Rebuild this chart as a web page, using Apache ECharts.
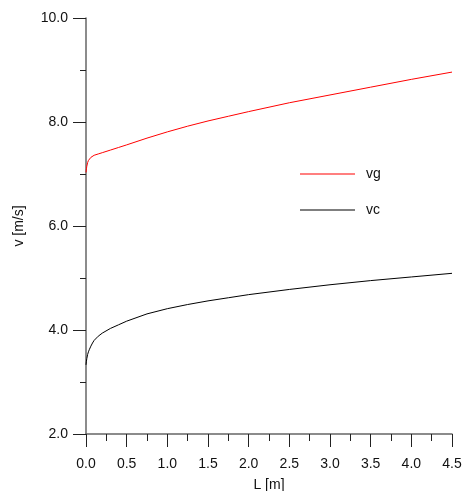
<!DOCTYPE html>
<html>
<head>
<meta charset="utf-8">
<script src="https://cdn.jsdelivr.net/npm/echarts@6/dist/echarts.min.js"></script>
<style>
  html, body { margin: 0; padding: 0; background: #fff; }
  #chart { width: 462px; height: 491px; }
</style>
</head>
<body>
<div id="chart"></div>
<script>
// L [m] sample points
const lengths = [0, 0.005, 0.01, 0.02, 0.03, 0.04, 0.06, 0.08, 0.1, 0.15, 0.2, 0.3, 0.4, 0.5, 0.75, 1.0, 1.25, 1.5, 1.75, 2.0, 2.5, 3.0, 3.5, 4.0, 4.5]
// v [m/s]
const vg = [7.03, 7.10, 7.15, 7.22, 7.26, 7.29, 7.32, 7.34, 7.36, 7.385, 7.41, 7.46, 7.51, 7.56, 7.69, 7.81, 7.92, 8.02, 8.11, 8.20, 8.37, 8.52, 8.67, 8.82, 8.96]
const vc = [3.33, 3.40, 3.45, 3.53, 3.58, 3.62, 3.69, 3.75, 3.80, 3.88, 3.94, 4.03, 4.10, 4.17, 4.31, 4.41, 4.49, 4.56, 4.62, 4.68, 4.78, 4.87, 4.95, 5.02, 5.09]

const font = 'Liberation Sans, Arial, sans-serif'
const chart = echarts.init(document.getElementById('chart'))

const axisCommon = {
  axisLine: { show: true, lineStyle: { color: '#666', width: 1.5 } },
  axisTick: { show: true, inside: false, length: 13, lineStyle: { color: '#222' } },
  minorTick: { show: true, splitNumber: 2, lineStyle: { color: '#222' } },
  splitLine: { show: false },
  axisLabel: { color: '#111', fontSize: 14, fontFamily: font, formatter: v => v.toFixed(1) },
  nameLocation: 'middle',
  nameTextStyle: { color: '#111', fontSize: 14, fontFamily: font }
}

chart.setOption({
  animation: false,
  grid: { left: 86, top: 18, right: 10, bottom: 57, containLabel: false, outerBoundsMode: 'none' },
  legend: {
    orient: 'vertical',
    left: 295,
    top: 162,
    icon: 'rect',
    itemWidth: 55,
    itemHeight: 1,
    itemGap: 22,
    textStyle: { color: '#111', fontSize: 14, fontFamily: font, padding: [0, 0, 0, 6] },
    data: ['vg', 'vc']
  },
  xAxis: Object.assign({}, axisCommon, {
    type: 'value',
    min: 0,
    max: 4.5,
    interval: 0.5,
    name: 'L [m]',
    nameGap: 44,
    minorTick: Object.assign({}, axisCommon.minorTick, { length: 7 }),
    axisLabel: Object.assign({}, axisCommon.axisLabel, { margin: 23 })
  }),
  yAxis: Object.assign({}, axisCommon, {
    type: 'value',
    min: 2,
    max: 10,
    interval: 2,
    name: 'v [m/s]',
    nameGap: 60,
    minorTick: Object.assign({}, axisCommon.minorTick, { length: 6 }),
    axisLabel: Object.assign({}, axisCommon.axisLabel, { margin: 18 })
  }),
  series: [
    {
      name: 'vg',
      type: 'line',
      symbol: 'none',
      lineStyle: { color: '#ff0000', width: 1 },
      itemStyle: { color: '#ff0000' },
      data: lengths.map((l, i) => [l, vg[i]])
    },
    {
      name: 'vc',
      type: 'line',
      symbol: 'none',
      lineStyle: { color: '#000000', width: 1 },
      itemStyle: { color: '#000000' },
      data: lengths.map((l, i) => [l, vc[i]])
    }
  ]
})
</script>
</body>
</html>
